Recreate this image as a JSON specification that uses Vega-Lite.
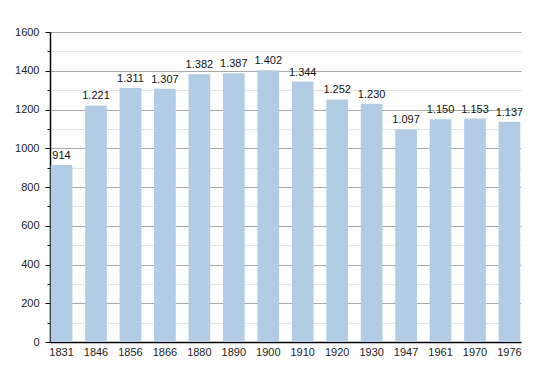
{
  "$schema": "https://vega.github.io/schema/vega-lite/v6.json",
  "width": 471,
  "height": 310,
  "autosize": "none",
  "padding": {"left": 50, "top": 32, "right": 29, "bottom": 31},
  "background": "white",
  "config": {
    "view": {"stroke": null},
    "font": "Liberation Sans",
    "locale": {"number": {"decimal": ",", "thousands": ".", "grouping": [3], "currency": ["", "€"]}}
  },
  "data": {
    "values": [
      {"year": "1831", "pop": 914},
      {"year": "1846", "pop": 1221},
      {"year": "1856", "pop": 1311},
      {"year": "1866", "pop": 1307},
      {"year": "1880", "pop": 1382},
      {"year": "1890", "pop": 1387},
      {"year": "1900", "pop": 1402},
      {"year": "1910", "pop": 1344},
      {"year": "1920", "pop": 1252},
      {"year": "1930", "pop": 1230},
      {"year": "1947", "pop": 1097},
      {"year": "1961", "pop": 1150},
      {"year": "1970", "pop": 1153},
      {"year": "1976", "pop": 1137}
    ]
  },
  "encoding": {
    "x": {
      "field": "year", "type": "nominal", "sort": null,
      "scale": {"paddingInner": 0.37, "paddingOuter": 0.02},
      "axis": {
        "title": null, "labelAngle": 0, "ticks": false, "labelPadding": 4,
        "labelFontSize": 11, "labelColor": "#222", "domainColor": "#000", "domainWidth": 1.5
      }
    },
    "y": {
      "field": "pop", "type": "quantitative",
      "scale": {"domain": [0, 1600], "nice": false},
      "axis": {
        "title": null,
        "values": [0, 100, 200, 300, 400, 500, 600, 700, 800, 900, 1000, 1100, 1200, 1300, 1400, 1500, 1600],
        "format": "d",
        "labelExpr": "datum.value % 200 == 0 ? datum.label : ''",
        "labelFontSize": 11, "labelColor": "#222", "labelPadding": 6,
        "domainColor": "#000", "domainWidth": 1.5,
        "tickColor": "#000",
        "tickSize": {"condition": {"test": "datum.value % 200 == 0", "value": 5}, "value": 3},
        "grid": true,
        "gridColor": {"condition": {"test": "datum.value % 200 == 0", "value": "#a8a8a8"}, "value": "#e4e4e4"},
        "gridWidth": 1
      }
    }
  },
  "layer": [
    {"mark": {"type": "bar", "color": "#b2cce6"}},
    {
      "mark": {"type": "text", "baseline": "bottom", "dy": -4, "fontSize": 11, "color": "#111"},
      "encoding": {"text": {"field": "pop", "type": "quantitative", "format": ",d"}}
    }
  ]
}
